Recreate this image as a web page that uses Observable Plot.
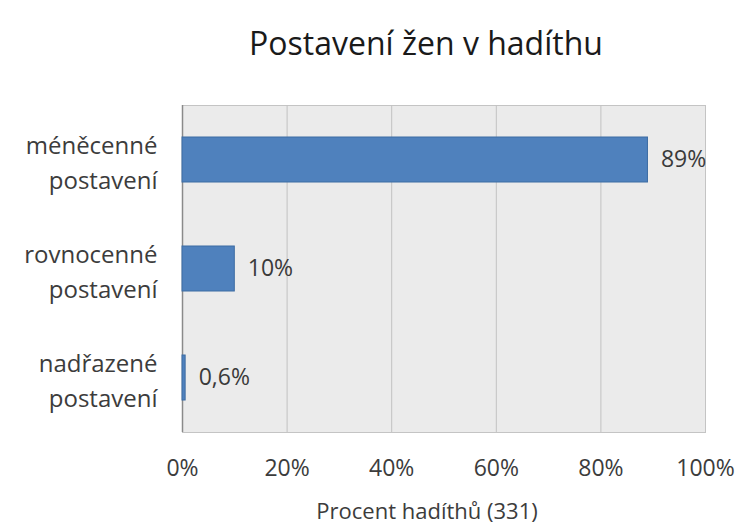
<!DOCTYPE html>
<html>
<head>
<meta charset="utf-8">
<script src="https://cdn.jsdelivr.net/npm/d3@7"></script>
<script src="https://cdn.jsdelivr.net/npm/@observablehq/plot@0.6"></script>
<style>
  html, body { margin: 0; padding: 0; background: #fff; }
  #wrap { width: 745px; height: 529px; position: relative; font-family: "Open Sans", sans-serif; }
  #title { position: absolute; left: 0; top: 0; width: 745px; height: 80px; }
  #title span { position: absolute; left: 426px; top: 27px; transform: translateX(-50%); white-space: nowrap;
    font-size: 32px; color: #1a1a1a; line-height: 1; }
  #chart { position: absolute; left: 0; top: 80px; }
</style>
</head>
<body>
<div id="wrap">
  <div id="title"><span>Postavení žen v hadíthu</span></div>
  <div id="chart"></div>
</div>
<script>
const categories = ["méněcenné\npostavení", "rovnocenné\npostavení", "nadřazené\npostavení"];
const values = [89, 10, 0.6];
const xTicks = [0, 20, 40, 60, 80, 100];
const xLabel = "Procent hadíthů (331)";

const data = categories.map((c, i) => ({category: c, value: values[i]}));
const fmt = v => String(v).replace(".", ",") + "%";

const chart = Plot.plot({
  width: 745,
  height: 449,
  marginTop: 25,
  marginBottom: 97,
  marginLeft: 182,
  marginRight: 40,
  style: {fontFamily: "Open Sans, sans-serif", color: "#3c3c3c", background: "transparent"},
  x: {domain: [0, 100], ticks: xTicks, tickFormat: d => d + "%"},
  y: {domain: categories, paddingInner: 0.59, paddingOuter: 0.295},
  marks: [
    Plot.frame({fill: "#ebebeb", stroke: "#c4c4c4"}),
    Plot.gridX(xTicks.slice(1, -1), {stroke: "#c2c2c2", strokeOpacity: 1}),
    Plot.ruleX([0], {stroke: "#8a8a8a", strokeWidth: 1.5}),
    Plot.barX(data, {x: "value", y: "category", fill: "#4f81bd", stroke: "#3d6ca3", strokeWidth: 1}),
    Plot.text(data, {x: "value", y: "category", text: d => fmt(d.value), textAnchor: "start", dx: 13,
      fontSize: 23, fill: "#3a3a3a"}),
    Plot.axisX({ticks: xTicks, tickFormat: d => d + "%", tickSize: 0, tickPadding: 27, fontSize: 23,
      label: null}),
    Plot.text([xLabel], {frameAnchor: "bottom", text: d => d, dy: 86, dx: -17, lineAnchor: "bottom",
      fontSize: 22, fill: "#3c3c3c"}),
    Plot.axisY({tickSize: 0, tickPadding: 25, fontSize: 24, lineHeight: 1.45, label: null})
  ]
});
document.getElementById("chart").appendChild(chart);
</script>
</body>
</html>
